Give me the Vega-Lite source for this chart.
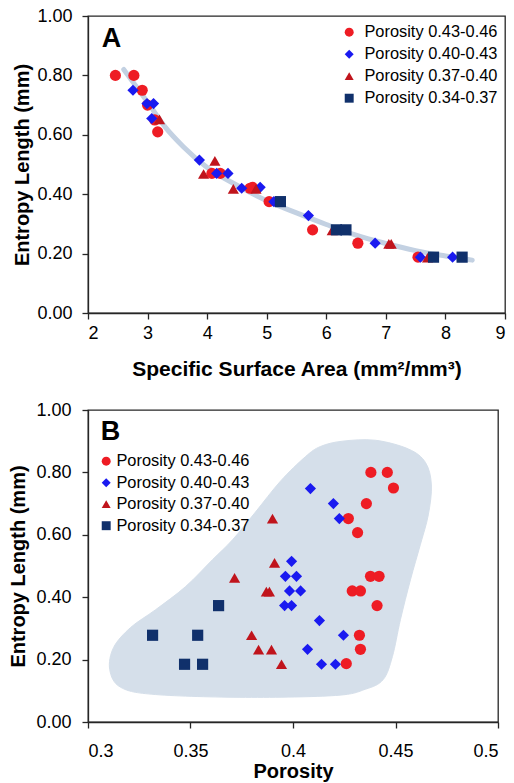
{
  "$schema": "https://vega.github.io/schema/vega-lite/v6.json",
  "padding": {"left": 8, "top": 6, "right": 2, "bottom": 0},
  "spacing": 20,
  "datasets": {
    "curve": [
      {"ssa": 2.6, "len": 0.82}, {"ssa": 2.8, "len": 0.765}, {"ssa": 3.0, "len": 0.71},
      {"ssa": 3.3, "len": 0.625}, {"ssa": 3.6, "len": 0.56}, {"ssa": 4.0, "len": 0.49},
      {"ssa": 4.5, "len": 0.43}, {"ssa": 5.0, "len": 0.378}, {"ssa": 5.5, "len": 0.337},
      {"ssa": 6.0, "len": 0.298}, {"ssa": 6.5, "len": 0.262}, {"ssa": 7.0, "len": 0.234},
      {"ssa": 7.5, "len": 0.21}, {"ssa": 8.0, "len": 0.192}, {"ssa": 8.45, "len": 0.178}
    ],
    "a": [
      {"g": "Porosity 0.43-0.46", "ssa": 2.46, "len": 0.8},
      {"g": "Porosity 0.43-0.46", "ssa": 2.77, "len": 0.8},
      {"g": "Porosity 0.43-0.46", "ssa": 2.91, "len": 0.75},
      {"g": "Porosity 0.43-0.46", "ssa": 3.0, "len": 0.7},
      {"g": "Porosity 0.43-0.46", "ssa": 3.12, "len": 0.65},
      {"g": "Porosity 0.43-0.46", "ssa": 3.17, "len": 0.61},
      {"g": "Porosity 0.43-0.46", "ssa": 4.08, "len": 0.47},
      {"g": "Porosity 0.43-0.46", "ssa": 4.22, "len": 0.47},
      {"g": "Porosity 0.43-0.46", "ssa": 4.72, "len": 0.42},
      {"g": "Porosity 0.43-0.46", "ssa": 4.76, "len": 0.423},
      {"g": "Porosity 0.43-0.46", "ssa": 5.04, "len": 0.375},
      {"g": "Porosity 0.43-0.46", "ssa": 5.77, "len": 0.28},
      {"g": "Porosity 0.43-0.46", "ssa": 6.53, "len": 0.235},
      {"g": "Porosity 0.43-0.46", "ssa": 7.54, "len": 0.188},
      {"g": "Porosity 0.40-0.43", "ssa": 2.755, "len": 0.75},
      {"g": "Porosity 0.40-0.43", "ssa": 2.99, "len": 0.705},
      {"g": "Porosity 0.40-0.43", "ssa": 3.1, "len": 0.705},
      {"g": "Porosity 0.40-0.43", "ssa": 3.07, "len": 0.655},
      {"g": "Porosity 0.40-0.43", "ssa": 3.87, "len": 0.515},
      {"g": "Porosity 0.40-0.43", "ssa": 4.16, "len": 0.47},
      {"g": "Porosity 0.40-0.43", "ssa": 4.35, "len": 0.47},
      {"g": "Porosity 0.40-0.43", "ssa": 4.58, "len": 0.42},
      {"g": "Porosity 0.40-0.43", "ssa": 4.89, "len": 0.423},
      {"g": "Porosity 0.40-0.43", "ssa": 5.12, "len": 0.375},
      {"g": "Porosity 0.40-0.43", "ssa": 5.7, "len": 0.328},
      {"g": "Porosity 0.40-0.43", "ssa": 6.25, "len": 0.28},
      {"g": "Porosity 0.40-0.43", "ssa": 6.82, "len": 0.235},
      {"g": "Porosity 0.40-0.43", "ssa": 7.58, "len": 0.188},
      {"g": "Porosity 0.40-0.43", "ssa": 8.12, "len": 0.188},
      {"g": "Porosity 0.37-0.40", "ssa": 3.2, "len": 0.652},
      {"g": "Porosity 0.37-0.40", "ssa": 4.13, "len": 0.512},
      {"g": "Porosity 0.37-0.40", "ssa": 3.94, "len": 0.468},
      {"g": "Porosity 0.37-0.40", "ssa": 4.44, "len": 0.418},
      {"g": "Porosity 0.37-0.40", "ssa": 4.82, "len": 0.418},
      {"g": "Porosity 0.37-0.40", "ssa": 6.1, "len": 0.278},
      {"g": "Porosity 0.37-0.40", "ssa": 7.05, "len": 0.233},
      {"g": "Porosity 0.37-0.40", "ssa": 7.09, "len": 0.233},
      {"g": "Porosity 0.37-0.40", "ssa": 7.7, "len": 0.186},
      {"g": "Porosity 0.34-0.37", "ssa": 5.23, "len": 0.375},
      {"g": "Porosity 0.34-0.37", "ssa": 6.17, "len": 0.28},
      {"g": "Porosity 0.34-0.37", "ssa": 6.33, "len": 0.28},
      {"g": "Porosity 0.34-0.37", "ssa": 7.8, "len": 0.188},
      {"g": "Porosity 0.34-0.37", "ssa": 8.28, "len": 0.188}
    ],
    "blob": [
      {"i": 1, "por": 0.4241, "len": 0.9}, {"i": 2, "por": 0.4402, "len": 0.903},
      {"i": 3, "por": 0.4563, "len": 0.875}, {"i": 4, "por": 0.4646, "len": 0.832},
      {"i": 5, "por": 0.4675, "len": 0.76}, {"i": 6, "por": 0.466, "len": 0.664},
      {"i": 7, "por": 0.4621, "len": 0.568}, {"i": 8, "por": 0.4573, "len": 0.456},
      {"i": 9, "por": 0.4524, "len": 0.328}, {"i": 10, "por": 0.4485, "len": 0.21},
      {"i": 11, "por": 0.444, "len": 0.136}, {"i": 12, "por": 0.4353, "len": 0.105},
      {"i": 13, "por": 0.4207, "len": 0.085}, {"i": 14, "por": 0.3769, "len": 0.079},
      {"i": 15, "por": 0.333, "len": 0.088}, {"i": 16, "por": 0.316, "len": 0.111},
      {"i": 17, "por": 0.3106, "len": 0.168}, {"i": 18, "por": 0.3125, "len": 0.239},
      {"i": 19, "por": 0.3208, "len": 0.303}, {"i": 20, "por": 0.333, "len": 0.36},
      {"i": 21, "por": 0.3476, "len": 0.434}, {"i": 22, "por": 0.3607, "len": 0.52},
      {"i": 23, "por": 0.3705, "len": 0.584}, {"i": 24, "por": 0.3817, "len": 0.673},
      {"i": 25, "por": 0.3939, "len": 0.772}, {"i": 26, "por": 0.406, "len": 0.85},
      {"i": 27, "por": 0.4134, "len": 0.883}
    ],
    "b": [
      {"g": "Porosity 0.43-0.46", "por": 0.438, "len": 0.8},
      {"g": "Porosity 0.43-0.46", "por": 0.446, "len": 0.8},
      {"g": "Porosity 0.43-0.46", "por": 0.449, "len": 0.75},
      {"g": "Porosity 0.43-0.46", "por": 0.4358, "len": 0.7},
      {"g": "Porosity 0.43-0.46", "por": 0.427, "len": 0.652},
      {"g": "Porosity 0.43-0.46", "por": 0.4315, "len": 0.607},
      {"g": "Porosity 0.43-0.46", "por": 0.4378, "len": 0.467},
      {"g": "Porosity 0.43-0.46", "por": 0.442, "len": 0.467},
      {"g": "Porosity 0.43-0.46", "por": 0.4289, "len": 0.42},
      {"g": "Porosity 0.43-0.46", "por": 0.4329, "len": 0.42},
      {"g": "Porosity 0.43-0.46", "por": 0.441, "len": 0.373},
      {"g": "Porosity 0.43-0.46", "por": 0.4324, "len": 0.278},
      {"g": "Porosity 0.43-0.46", "por": 0.4329, "len": 0.233},
      {"g": "Porosity 0.43-0.46", "por": 0.426, "len": 0.187},
      {"g": "Porosity 0.40-0.43", "por": 0.4085, "len": 0.748},
      {"g": "Porosity 0.40-0.43", "por": 0.4197, "len": 0.7},
      {"g": "Porosity 0.40-0.43", "por": 0.4226, "len": 0.652},
      {"g": "Porosity 0.40-0.43", "por": 0.3993, "len": 0.515},
      {"g": "Porosity 0.40-0.43", "por": 0.3963, "len": 0.467},
      {"g": "Porosity 0.40-0.43", "por": 0.4017, "len": 0.467},
      {"g": "Porosity 0.40-0.43", "por": 0.3983, "len": 0.42},
      {"g": "Porosity 0.40-0.43", "por": 0.4037, "len": 0.42},
      {"g": "Porosity 0.40-0.43", "por": 0.3959, "len": 0.373},
      {"g": "Porosity 0.40-0.43", "por": 0.3993, "len": 0.373},
      {"g": "Porosity 0.40-0.43", "por": 0.4129, "len": 0.325},
      {"g": "Porosity 0.40-0.43", "por": 0.4246, "len": 0.278},
      {"g": "Porosity 0.40-0.43", "por": 0.4071, "len": 0.233},
      {"g": "Porosity 0.40-0.43", "por": 0.4139, "len": 0.185},
      {"g": "Porosity 0.40-0.43", "por": 0.4207, "len": 0.185},
      {"g": "Porosity 0.37-0.40", "por": 0.39, "len": 0.652},
      {"g": "Porosity 0.37-0.40", "por": 0.391, "len": 0.51},
      {"g": "Porosity 0.37-0.40", "por": 0.3715, "len": 0.462},
      {"g": "Porosity 0.37-0.40", "por": 0.387, "len": 0.418},
      {"g": "Porosity 0.37-0.40", "por": 0.3885, "len": 0.418},
      {"g": "Porosity 0.37-0.40", "por": 0.3798, "len": 0.278},
      {"g": "Porosity 0.37-0.40", "por": 0.3832, "len": 0.232},
      {"g": "Porosity 0.37-0.40", "por": 0.3895, "len": 0.232},
      {"g": "Porosity 0.37-0.40", "por": 0.3944, "len": 0.185},
      {"g": "Porosity 0.34-0.37", "por": 0.3637, "len": 0.373},
      {"g": "Porosity 0.34-0.37", "por": 0.3315, "len": 0.278},
      {"g": "Porosity 0.34-0.37", "por": 0.3535, "len": 0.278},
      {"g": "Porosity 0.34-0.37", "por": 0.3471, "len": 0.185},
      {"g": "Porosity 0.34-0.37", "por": 0.3559, "len": 0.185}
    ]
  },
  "vconcat": [
    {
      "width": 417,
      "height": 297,
      "layer": [
        {
          "data": {"name": "curve"},
          "mark": {"type": "line", "color": "#c3d1e2", "strokeWidth": 5, "interpolate": "monotone", "strokeCap": "round"},
          "encoding": {
            "x": {"field": "ssa", "type": "quantitative", "scale": {"domain": [2, 9], "nice": false, "zero": false},
              "axis": {"values": [2, 3, 4, 5, 6, 7, 8, 9], "format": "d", "title": "Specific Surface Area (mm²/mm³)", "labelPadding": 5, "titlePadding": 16}},
            "y": {"field": "len", "type": "quantitative", "scale": {"domain": [0, 1], "nice": false},
              "axis": {"values": [0, 0.2, 0.4, 0.6, 0.8, 1], "format": ".2f", "title": "Entropy Length (mm)", "titleFontSize": 20, "labelPadding": 10, "titlePadding": 4}}
          }
        },
        {
          "data": {"name": "a"},
          "mark": {"type": "point", "filled": true, "size": 125, "opacity": 1},
          "encoding": {
            "x": {"field": "ssa", "type": "quantitative", "scale": {"domain": [2, 9], "nice": false, "zero": false},
              "axis": {"values": [2, 3, 4, 5, 6, 7, 8, 9], "format": "d", "title": "Specific Surface Area (mm²/mm³)", "labelPadding": 5, "titlePadding": 16}},
            "y": {"field": "len", "type": "quantitative", "scale": {"domain": [0, 1], "nice": false},
              "axis": {"values": [0, 0.2, 0.4, 0.6, 0.8, 1], "format": ".2f", "title": "Entropy Length (mm)", "titleFontSize": 20, "labelPadding": 10, "titlePadding": 4}},
            "color": {"field": "g", "type": "nominal",
              "scale": {"domain": ["Porosity 0.43-0.46", "Porosity 0.40-0.43", "Porosity 0.37-0.40", "Porosity 0.34-0.37"], "range": ["#ee1c24", "#1a1af0", "#c0141c", "#10306b"]},
              "legend": {"title": null, "orient": "none", "legendX": 253, "legendY": 8, "symbolSize": 80, "rowPadding": 5, "labelOffset": 7}},
            "shape": {"field": "g", "type": "nominal",
              "scale": {"domain": ["Porosity 0.43-0.46", "Porosity 0.40-0.43", "Porosity 0.37-0.40", "Porosity 0.34-0.37"], "range": ["circle", "diamond", "triangle-up", "square"]},
              "legend": {"title": null, "orient": "none", "legendX": 253, "legendY": 8, "symbolSize": 80, "rowPadding": 5, "labelOffset": 7}}
          }
        },
        {
          "data": {"values": [{"label": "A"}]},
          "mark": {"type": "text", "align": "left", "baseline": "middle", "fontSize": 27, "fontWeight": "bold", "font": "Liberation Sans", "color": "#000"},
          "encoding": {
            "text": {"field": "label", "type": "nominal"},
            "x": {"datum": 2.23, "type": "quantitative"},
            "y": {"datum": 0.922, "type": "quantitative"}
          }
        }
      ]
    },
    {
      "width": 410,
      "height": 312,
      "layer": [
        {
          "data": {"name": "blob"},
          "mark": {"type": "line", "fill": "#d5dfea", "stroke": "#d5dfea", "strokeWidth": 1, "interpolate": "cardinal-closed"},
          "encoding": {
            "x": {"field": "por", "type": "quantitative", "scale": {"domain": [0.3, 0.5], "nice": false, "zero": false},
              "axis": {"values": [0.3, 0.35, 0.4, 0.45, 0.5], "format": ".2~f", "title": "Porosity", "titleFontSize": 20, "labelPadding": 14, "titlePadding": 1}},
            "y": {"field": "len", "type": "quantitative", "scale": {"domain": [0, 1], "nice": false},
              "axis": {"values": [0, 0.2, 0.4, 0.6, 0.8, 1], "format": ".2f", "title": "Entropy Length (mm)", "titleFontSize": 20, "labelPadding": 11, "titlePadding": 7}},
            "order": {"field": "i", "type": "quantitative"}
          }
        },
        {
          "data": {"name": "b"},
          "mark": {"type": "point", "filled": true, "size": 125, "opacity": 1},
          "encoding": {
            "x": {"field": "por", "type": "quantitative", "scale": {"domain": [0.3, 0.5], "nice": false, "zero": false},
              "axis": {"values": [0.3, 0.35, 0.4, 0.45, 0.5], "format": ".2~f", "title": "Porosity", "titleFontSize": 20, "labelPadding": 14, "titlePadding": 1}},
            "y": {"field": "len", "type": "quantitative", "scale": {"domain": [0, 1], "nice": false},
              "axis": {"values": [0, 0.2, 0.4, 0.6, 0.8, 1], "format": ".2f", "title": "Entropy Length (mm)", "titleFontSize": 20, "labelPadding": 11, "titlePadding": 7}},
            "color": {"field": "g", "type": "nominal",
              "scale": {"domain": ["Porosity 0.43-0.46", "Porosity 0.40-0.43", "Porosity 0.37-0.40", "Porosity 0.34-0.37"], "range": ["#ee1c24", "#1a1af0", "#c0141c", "#10306b"]},
              "legend": {"title": null, "orient": "none", "legendX": 10, "legendY": 43, "symbolSize": 80, "rowPadding": 4.5, "labelOffset": 2}},
            "shape": {"field": "g", "type": "nominal",
              "scale": {"domain": ["Porosity 0.43-0.46", "Porosity 0.40-0.43", "Porosity 0.37-0.40", "Porosity 0.34-0.37"], "range": ["circle", "diamond", "triangle-up", "square"]},
              "legend": {"title": null, "orient": "none", "legendX": 10, "legendY": 43, "symbolSize": 80, "rowPadding": 4.5, "labelOffset": 2}}
          }
        },
        {
          "data": {"values": [{"label": "B"}]},
          "mark": {"type": "text", "align": "left", "baseline": "middle", "fontSize": 27, "fontWeight": "bold", "font": "Liberation Sans", "color": "#000"},
          "encoding": {
            "text": {"field": "label", "type": "nominal"},
            "x": {"datum": 0.3062, "type": "quantitative"},
            "y": {"datum": 0.929, "type": "quantitative"}
          }
        }
      ]
    }
  ],
  "resolve": {
    "scale": {"color": "independent", "shape": "independent"},
    "legend": {"color": "independent", "shape": "independent"}
  },
  "config": {
    "font": "Liberation Sans",
    "view": {"stroke": "#262626", "strokeWidth": 1.3},
    "axis": {"grid": false, "domainColor": "#262626", "domainWidth": 1.3, "tickColor": "#262626", "tickWidth": 1.3, "tickSize": 6,
      "labelFont": "Liberation Sans", "labelFontSize": 18, "labelColor": "#000",
      "titleFont": "Liberation Sans", "titleFontSize": 21, "titleFontWeight": "bold", "titleColor": "#000"},
    "legend": {"labelFont": "Liberation Sans", "labelFontSize": 16.4, "labelColor": "#000", "symbolStrokeWidth": 0}
  }
}
